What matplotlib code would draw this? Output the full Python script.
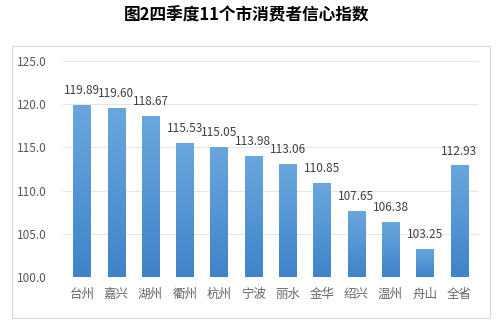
import numpy as np
import matplotlib.pyplot as plt
from matplotlib.patches import Rectangle

plt.rcParams['font.family'] = ['Noto Sans CJK SC', 'DejaVu Sans']

cities = ['台州', '嘉兴', '湖州', '衢州', '杭州', '宁波', '丽水', '金华', '绍兴', '温州', '舟山', '全省']
values = [119.89, 119.60, 118.67, 115.53, 115.05, 113.98, 113.06, 110.85, 107.65, 106.38, 103.25, 112.93]
y_ticks = [100, 105, 110, 115, 120, 125]

fig = plt.figure(figsize=(5.03, 3.27), dpi=100)
fig.patch.set_facecolor('white')

# outer chart frame (drawn behind the axes)
frame = Rectangle((12 / 503, 1 - 318 / 327), 478 / 503, 272 / 327, transform=fig.transFigure,
                  facecolor='white', edgecolor='#d9d9d9', linewidth=0.8, zorder=-5)
fig.patches.append(frame)

fig.text(0.49, 1 - 15 / 327, '图2四季度11个市消费者信心指数', ha='center', va='center',
         fontsize=12, fontweight='bold', color='black')

ax = fig.add_axes([63 / 503, 1 - 277 / 327, 415 / 503, 216 / 327])
ax.set_facecolor('none')
ax.set_zorder(5)

x = np.arange(len(cities))
bars = ax.bar(x, np.array(values) - 100, bottom=100, width=0.5, color='#5b9bd5', zorder=2)

# vertical gradient inside each bar
grad = np.linspace(0, 1, 256).reshape(-1, 1)
cmap = plt.matplotlib.colors.LinearSegmentedColormap.from_list('g', ['#3f83c9', '#6aa7dd'])
for b in bars:
    bx, by = b.get_x(), b.get_y()
    w, h = b.get_width(), b.get_height()
    im = ax.imshow(grad, cmap=cmap, aspect='auto', origin='lower',
                   extent=(bx, bx + w, by, by + h), zorder=3)
    im.set_clip_path(b)

for xi, v in zip(x, values):
    ax.text(xi, v + 0.9, f'{v:.2f}', ha='center', va='bottom', fontsize=8.5, color='#404040')

ax.set_xlim(-0.55, 11.55)
ax.set_ylim(100, 125)
ax.set_yticks(y_ticks)
ax.set_yticklabels([f'{t:.1f}' for t in y_ticks])
ax.set_xticks(x)
ax.set_xticklabels(cities)
ax.grid(axis='y', color='#e6e6e6', linewidth=0.8, zorder=0)
ax.tick_params(axis='y', length=0, labelsize=8.5, labelcolor='#595959', pad=12)
ax.tick_params(axis='x', length=0, labelsize=9, labelcolor='#666666', pad=8)
for s in ax.spines.values():
    s.set_visible(False)
ax.axhline(100, color='#e0e0e0', linewidth=0.8, zorder=1)

plt.savefig('out.png', dpi=100)
